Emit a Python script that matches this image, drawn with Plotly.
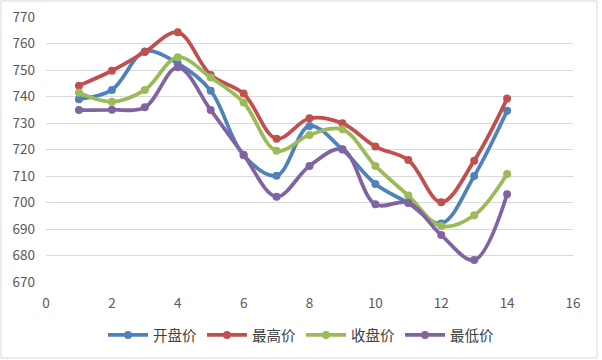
import plotly.graph_objects as go

days = [1, 2, 3, 4, 5, 6, 7, 8, 9, 10, 11, 12, 13, 14]
open_price = [739, 742.5, 757, 752.5, 742.2, 717.8, 710.1, 728.9, 720, 707, 699.8, 692.1, 710, 734.6]
high_price = [744.1, 749.7, 756.8, 764.2, 748.1, 741.1, 724.1, 731.8, 729.9, 721.1, 716, 700.1, 715.8, 739.2]
close_price = [741.4, 738, 742.5, 754.8, 747.2, 737.7, 719.5, 725.5, 727.6, 713.8, 702.6, 691.1, 695.2, 710.8]
low_price = [734.9, 735, 735.9, 751, 734.9, 718, 702.2, 713.8, 720.1, 699.3, 699.9, 687.7, 678.3, 703.1]

series = [
    ("开盘价", open_price, "#4f81bd"),
    ("最高价", high_price, "#c0504d"),
    ("收盘价", close_price, "#9bbb59"),
    ("最低价", low_price, "#8064a2"),
]

font_family = "Noto Sans CJK SC, Noto Sans, sans-serif"

fig = go.Figure()
for name, vals, color in series:
    fig.add_trace(go.Scatter(
        x=days, y=vals, name=name, mode="lines+markers",
        line=dict(color=color, width=3.75, shape="spline", smoothing=1),
        marker=dict(color=color, size=8),
    ))

fig.update_layout(
    width=602, height=360,
    margin=dict(l=46, r=29, t=17, b=78, autoexpand=False),
    paper_bgcolor="white", plot_bgcolor="white",
    font=dict(family=font_family, color="#595959", size=13),
    showlegend=True,
    legend=dict(orientation="h", xref="container", x=0.5, xanchor="center",
                yref="container", y=1 - 335 / 360, yanchor="middle",
                font=dict(size=14.5, color="#404040"), itemwidth=40,
                traceorder="normal"),
    xaxis=dict(range=[0, 16], tickvals=[0, 2, 4, 6, 8, 10, 12, 14, 16],
               showgrid=False, zeroline=False, showline=False, automargin=False,
               ticks="", ticklabelstandoff=11, tickfont=dict(size=13.5, color="#595959")),
    yaxis=dict(range=[670, 770], tickvals=list(range(670, 771, 10)),
               showgrid=True, gridcolor="#d9d9d9", gridwidth=1, automargin=False,
               zeroline=False, showline=False, ticks="", ticklabelstandoff=10,
               tickfont=dict(size=13.5, color="#595959")),
    shapes=[dict(type="rect", xref="paper", yref="paper",
                 x0=-45/527, x1=1 + 24/527, y0=-76/265, y1=1 + 16/265,
                 line=dict(color="#d9d9d9", width=1))],
)

fig.write_html("out.html", config={"displayModeBar": False},
               post_script="document.body.style.margin='0';document.body.style.overflow='hidden';")
